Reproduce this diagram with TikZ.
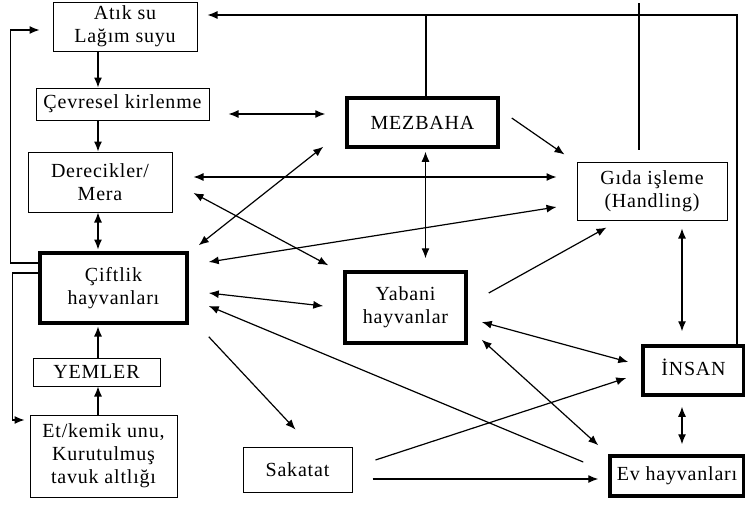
\documentclass[tikz,border=0pt]{standalone}
\usepackage{fontspec}
\setmainfont{Liberation Serif}[LetterSpace=4]
\usetikzlibrary{arrows.meta}

\begin{document}
\begin{tikzpicture}[
  x=1pt, y=-1pt,
  font=\fontsize{20}{23}\selectfont,
  kutu/.style={draw, line width=1pt, align=center, inner sep=0pt},
  kalin/.style={kutu, line width=3.5pt},
  ok/.style={-{Latex[length=10pt,width=8pt]}, line width=1.2pt},
  cift/.style={{Latex[length=10pt,width=8pt]}-{Latex[length=10pt,width=8pt]}, line width=1.2pt},
  cizgi/.style={line width=1.2pt},
]
\useasboundingbox (0,0) rectangle (745,504);
% sol sutun
\node[kutu, minimum width=144pt, minimum height=49pt] (atiksu) at (125,26.5) {Atık su\\Lağım suyu};
\node[kutu, minimum width=173pt, minimum height=32pt] (cevre) at (122.5,104) {Çevresel kirlenme};
\node[kutu, minimum width=144pt, minimum height=60pt] (dere) at (100,182) {Derecikler/\\Mera};
\node[kalin, minimum width=147pt, minimum height=70pt] (ciftlik) at (113.5,288) {Çiftlik\\hayvanları};
\node[kutu, minimum width=127pt, minimum height=28pt] (yem) at (96.5,372) {YEMLER};
\node[kutu, minimum width=147pt, minimum height=82pt] (etkemik) at (103.5,456)
  {Et/kemik unu,\\Kurutulmuş\\tavuk altlığı};
% orta ve sag
\node[kutu, minimum width=109pt, minimum height=45pt] (sakatat) at (297.5,469.5) {Sakatat};
\node[kalin, minimum width=151pt, minimum height=49pt] (mezbaha) at (422.5,122.5) {MEZBAHA};
\node[kalin, minimum width=121pt, minimum height=71pt] (yabani) at (405.5,307.5) {Yabani\\hayvanlar};
\node[kutu, minimum width=150pt, minimum height=58pt] (gida) at (652,191) {Gıda işleme\\(Handling)};
\node[kalin, minimum width=101pt, minimum height=49pt] (insan) at (693.5,370.5) {\raisebox{6pt}{İNSAN}};
\node[kalin, minimum width=134pt, minimum height=40pt] (ev) at (677,476) {Ev hayvanları};
\coordinate (sutun) at (98,0);
\coordinate (tavan) at (0,15);
% sol sutun oklari
\draw[ok] (atiksu.south -| sutun) -- (cevre.north -| sutun);
\draw[ok] (cevre.south -| sutun) -- (dere.north -| sutun);
\draw[cift, shorten >=1.75pt] (dere.south -| sutun) -- (ciftlik.north -| sutun);
\draw[ok, shorten >=1.75pt] (yem.north -| sutun) -- (ciftlik.south -| sutun);
\draw[ok] (etkemik.north -| sutun) -- (yem.south -| sutun);
\draw[ok] ([shift={(0,-25)}]ciftlik.west) -- ++(-28,0) |- ([shift={(-13,3.5)}]atiksu.west);
\draw[ok] ([shift={(0,-15)}]ciftlik.west) -- ++(-26,0) |- ([shift={(-5,-36)}]etkemik.west);
% ust donus
\draw[ok] ([xshift=43.5pt]insan.north) |- ([shift={(10,-11.5)}]atiksu.east);
\draw[cizgi] ([xshift=3.5pt]mezbaha.north) -- ([xshift=3.5pt]mezbaha.north |- tavan);
\draw[cizgi] ([shift={(-13,-12)}]gida.north) -- ([shift={(-13,-12)}]gida.north |- tavan);
% caprazlar
\draw[cift] ([shift={(19,10)}]cevre.east) -- ([shift={(-20,-8.5)}]mezbaha.west);
\draw[cift] ([shift={(10,-6)}]ciftlik.north east) -- ([shift={(-22,-2)}]mezbaha.south west);
\draw[ok] ([shift={(12,-4.5)}]mezbaha.east) -- ([shift={(-12,-7)}]gida.north west);
\draw[cift] ([shift={(3,3)}]mezbaha.south) -- ([shift={(20,-12)}]yabani.north);
\draw[cift] ([shift={(21,-5)}]dere.east) -- ([shift={(-20,-14)}]gida.west);
\draw[cift] ([shift={(21,11)}]dere.east) -- ([shift={(-15,-5)}]yabani.north west);
\draw[cift] ([shift={(20,-26)}]ciftlik.east) -- ([shift={(-20,16)}]gida.west);
\draw[cift] ([shift={(20,5)}]ciftlik.east) -- ([shift={(-20,-1.5)}]yabani.west);
\draw[ok] ([shift={(-25,-14)}]ev.west) -- ([shift={(20,18)}]ciftlik.east);
\draw[ok] ([shift={(20,12)}]ciftlik.south east) -- ([shift={(-2,-17)}]sakatat.north);
\draw[ok] ([shift={(21,-14.5)}]yabani.east) -- ([shift={(30,7)}]gida.south west);
\draw[cift] ([shift={(14,14.5)}]yabani.east) -- ([shift={(-13,-8.5)}]insan.west);
\draw[cift] ([shift={(14,-5)}]yabani.south east) -- ([shift={(-10,-9)}]ev.north west);
\draw[ok] ([shift={(23,-9.5)}]sakatat.east) -- ([shift={(-15,7.5)}]insan.west);
\draw[ok] ([shift={(20,9.5)}]sakatat.east) -- ([shift={(-10,3)}]ev.west);
\draw[cift] ([shift={(30,8)}]gida.south) -- ([shift={(-11.5,-13)}]insan.north);
\draw[cift] ([shift={(-11.5,10)}]insan.south) -- ([shift={(5,-10)}]ev.north);
\end{tikzpicture}
\end{document}
